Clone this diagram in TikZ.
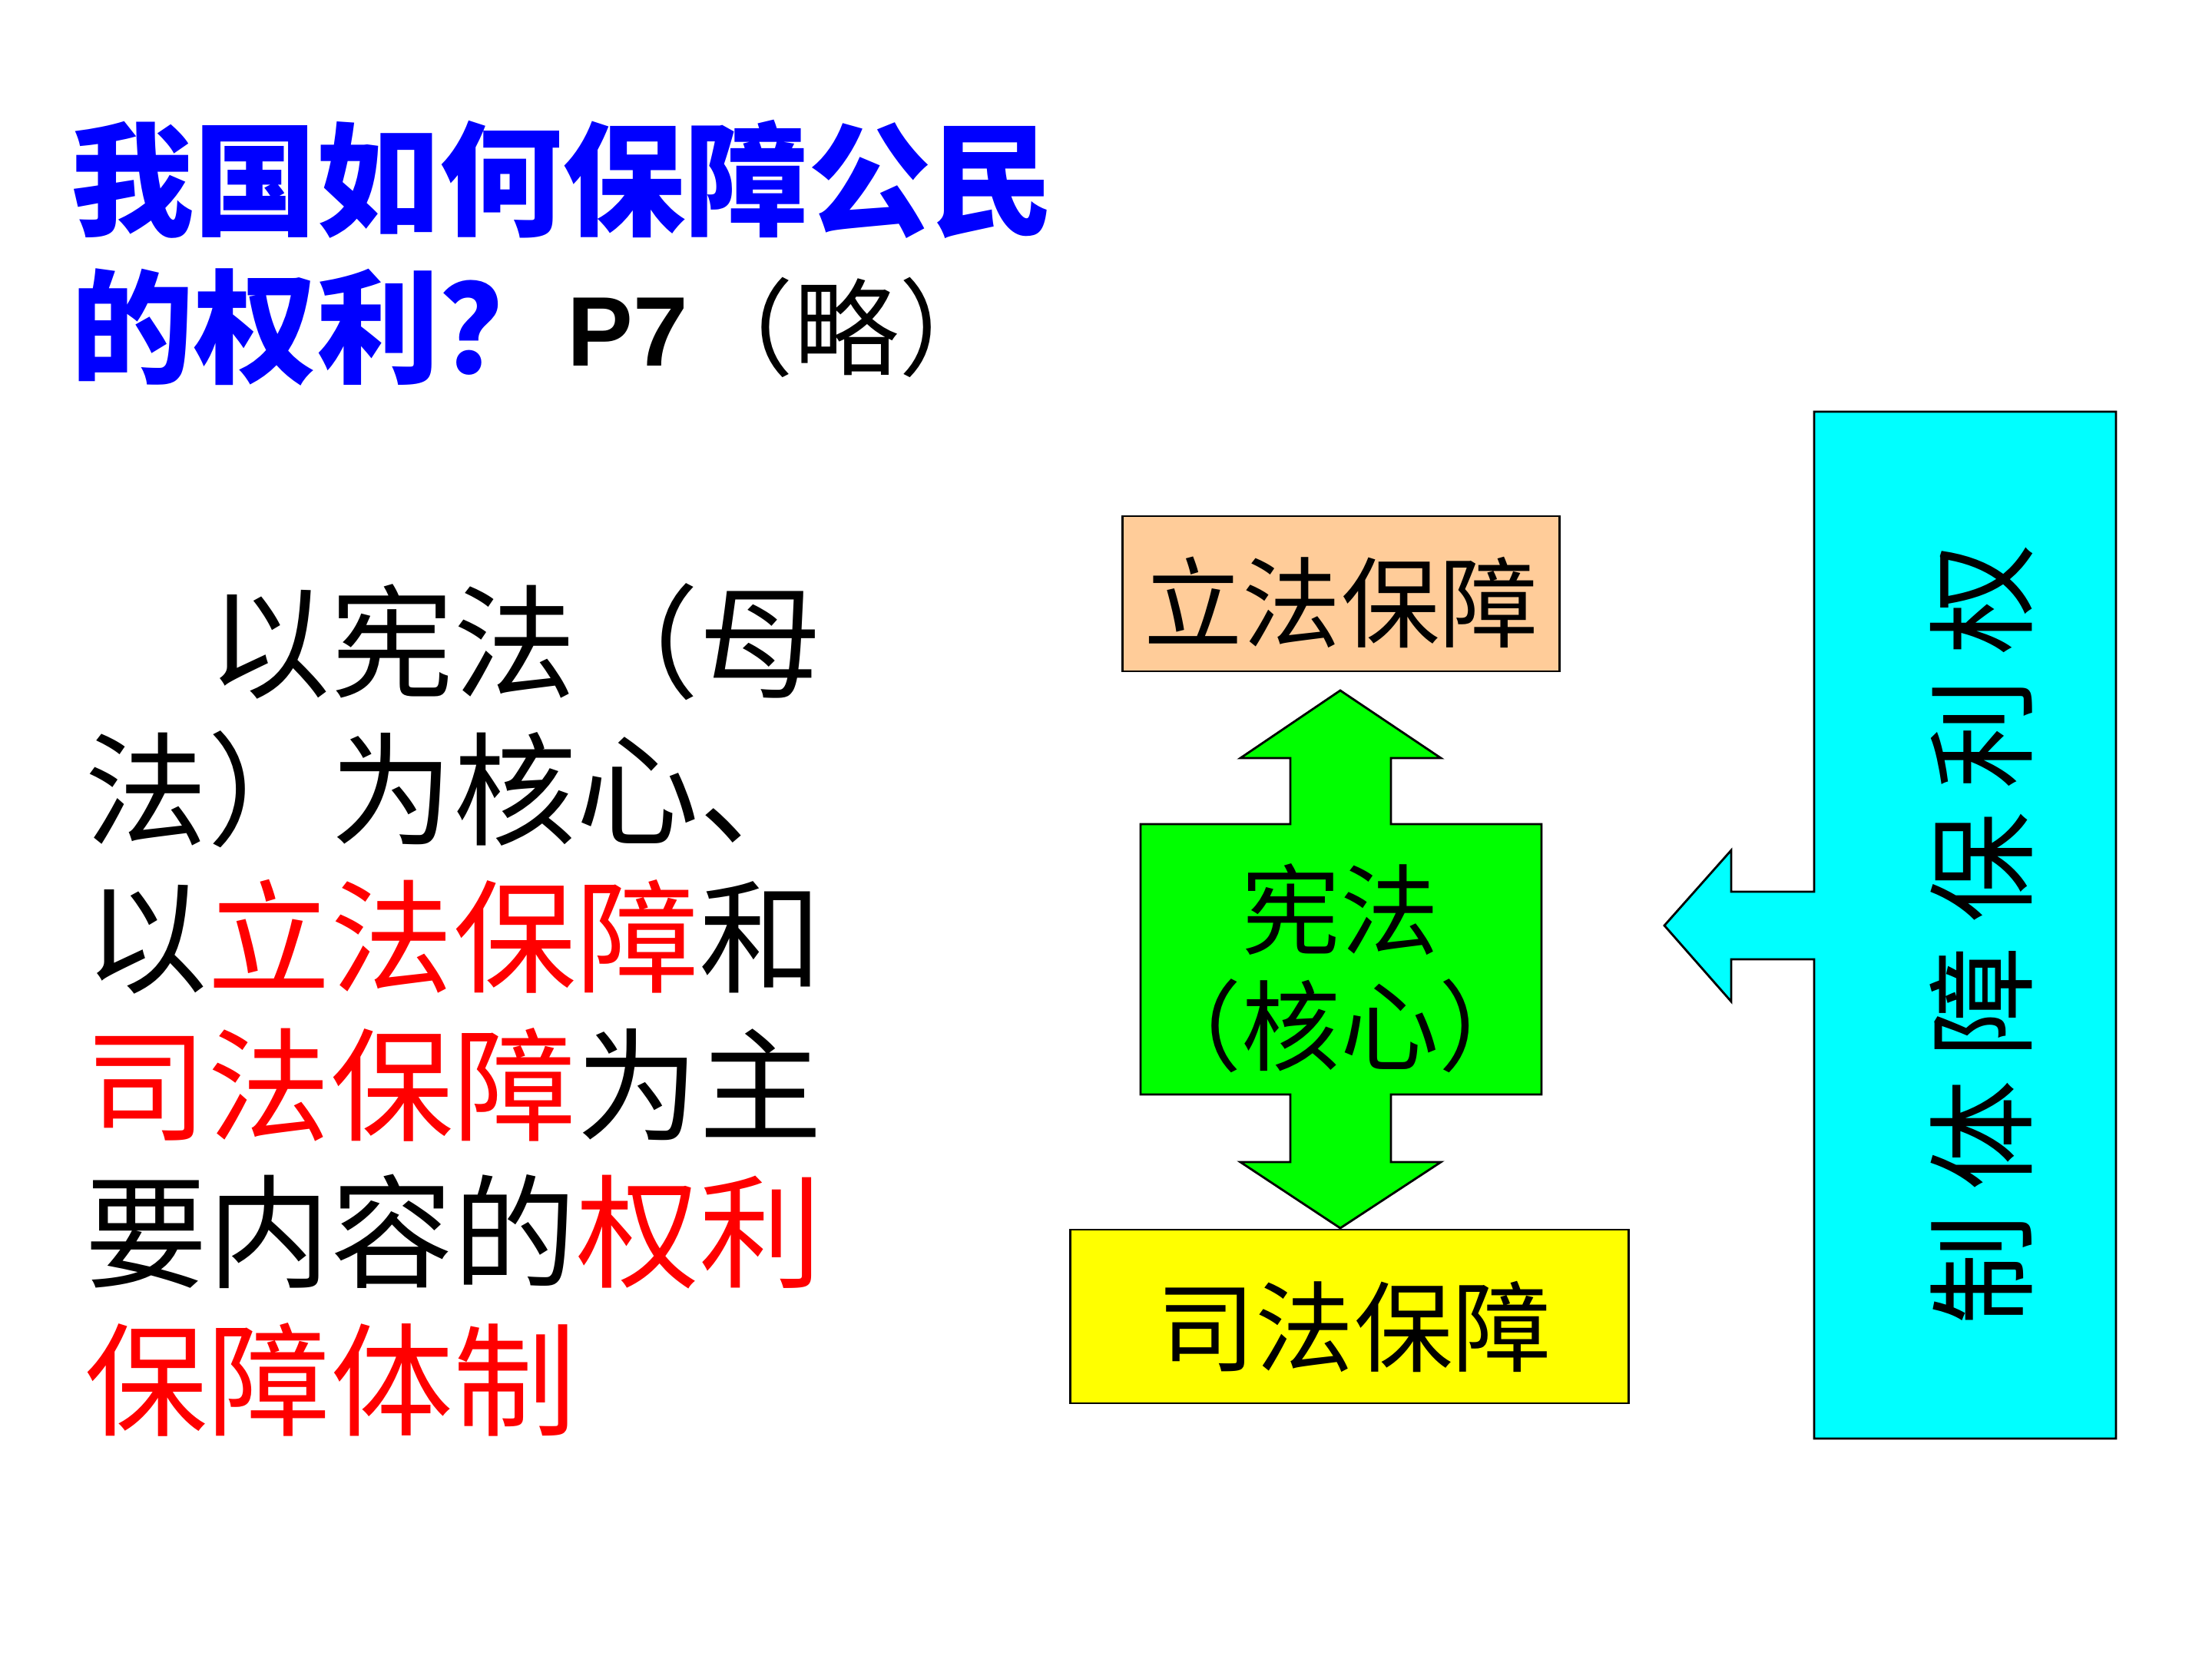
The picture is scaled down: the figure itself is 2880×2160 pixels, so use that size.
\documentclass[tikz,border=0pt]{standalone}
\usepackage{fontspec}
\newfontfamily\cjk{Noto Sans CJK SC}
\newfontfamily\arialf{Liberation Sans}
\definecolor{peach}{HTML}{FFCC99}
\definecolor{lgreen}{HTML}{00FF00}
\definecolor{lyellow}{HTML}{FFFF00}
\definecolor{lcyan}{HTML}{00FFFF}
\definecolor{tblue}{HTML}{0000FF}
\definecolor{tred}{HTML}{FF0000}
\tikzset{
  titletext/.style={anchor=west, inner sep=0pt, text=tblue, font=\cjk\bfseries\fontsize{45.5pt}{50pt}\selectfont},
  bodytext/.style={anchor=west, inner sep=0pt, font=\cjk\fontsize{45.5pt}{50pt}\selectfont},
  boxtext/.style={inner sep=0pt, font=\cjk\fontsize{36.5pt}{43pt}\selectfont},
  shapeline/.style={draw=black, line width=0.8pt, line join=miter},
}
\newcommand{\rd}[1]{\textcolor{tred}{#1}}
\newcommand{\gp}{\hspace{0.21em}}
\begin{document}
\begin{tikzpicture}[x=0.01cm, y=-0.01cm]
\useasboundingbox (0,0) rectangle (2880,2160);
\fill[white] (0,0) rectangle (2880,2160);

% title
\node[titletext] (t1) at (92,233) {我国如何保障公民};
\node[titletext] (t2) at (92,426) {的权利？};
\node[inner sep=0pt, font=\arialf\bfseries\fontsize{36.6pt}{40pt}\selectfont] (p7) at (817,432) {P7};
\node[inner sep=0pt, font=\cjk\fontsize{39pt}{44pt}\selectfont] (lue) at (1102,426) {（略）};

% body text
\node[bodytext] (b1) at (110,836) {\hspace{1em}以宪法（母};
\node[bodytext] (b2) at (110,1028) {法）为核心、};
\node[bodytext] (b3) at (110,1220) {以\rd{立法保障}和};
\node[bodytext] (b4) at (110,1412) {\rd{司法保障}为主};
\node[bodytext] (b5) at (110,1604) {要内容的\rd{权利}};
\node[bodytext] (b6) at (110,1796) {\rd{保障体制}};

% legislative box
\node[shapeline, fill=peach, minimum width=5.68cm, minimum height=2.02cm, inner sep=0pt] (legbox) at (1746,773) {};
\node[boxtext] (leg) at (1746,784) {立法保障};

% judicial box
\node[shapeline, fill=lyellow, minimum width=7.26cm, minimum height=2.26cm, inner sep=0pt] (judbox) at (1757,1714) {};
\node[boxtext] (jud) at (1763,1727) {司法保障};

% green double arrow with body
\draw[shapeline, fill=lgreen]
  (1745,899) -- (1876,987) -- (1811,987) -- (1811,1073) -- (2007,1073) -- (2007,1425)
  -- (1811,1425) -- (1811,1513) -- (1876,1513) -- (1745,1599) -- (1615,1513)
  -- (1680,1513) -- (1680,1425) -- (1485,1425) -- (1485,1073) -- (1680,1073)
  -- (1680,987) -- (1615,987) -- cycle;
\node[boxtext, align=center] (core) at (1745,1261) {宪法\\（核心）};

% cyan box with left arrow
\draw[shapeline, fill=lcyan]
  (2362,536) -- (2755,536) -- (2755,1873) -- (2362,1873) -- (2362,1249)
  -- (2254,1249) -- (2254,1304) -- (2167,1205) -- (2254,1107) -- (2254,1161)
  -- (2362,1161) -- cycle;
\node[inner sep=0pt, rotate=90, font=\cjk\fontsize{41pt}{46pt}\selectfont] (sys) at (2580,1217)
  {制\gp 体\gp 障\gp 保\gp 利\gp 权};
\end{tikzpicture}
\end{document}
